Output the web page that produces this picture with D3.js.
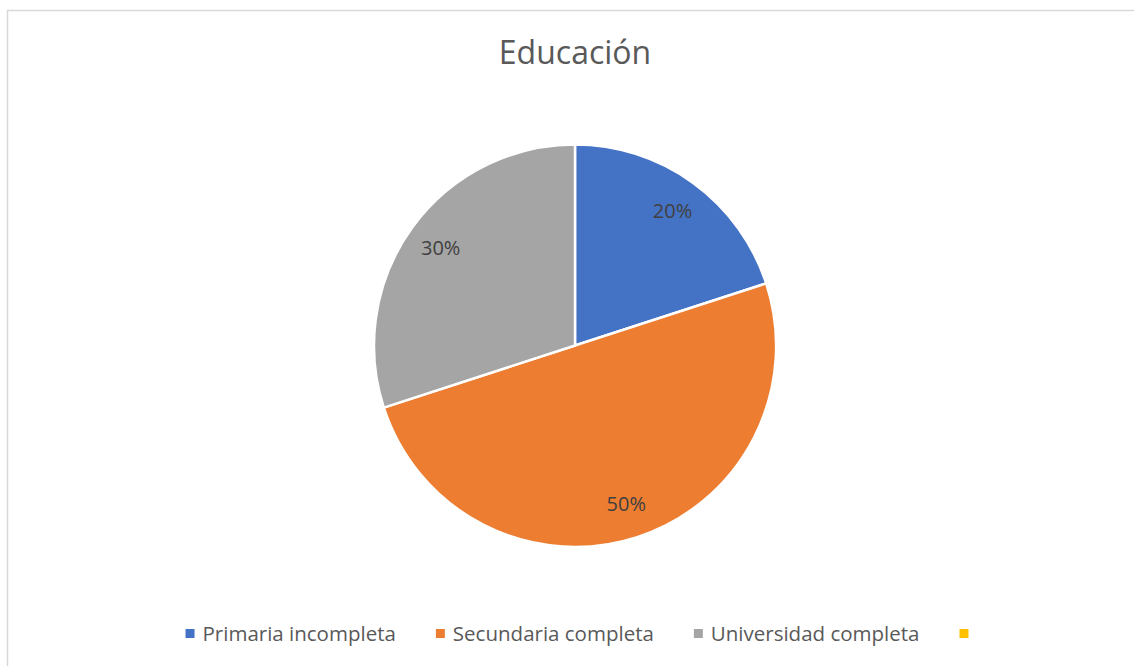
<!DOCTYPE html>
<html>
<head>
<meta charset="utf-8">
<script src="https://cdn.jsdelivr.net/npm/d3@7"></script>
<style>
  html, body { margin: 0; padding: 0; background: #fff; }
  svg { display: block; }
</style>
</head>
<body>
<svg id="chart" width="1134" height="666"></svg>
<script>
const title = "Educación";
const categories = ["Primaria incompleta", "Secundaria completa", "Universidad completa", ""];
const values = [20, 50, 30, 0];
const colors = ["#4472C4", "#ED7D31", "#A5A5A5", "#FFC000"];

const W = 1134, H = 666;
const svg = d3.select("#chart");
const FONT = "'Open Sans', 'Liberation Sans', sans-serif";

// frame
svg.append("rect")
  .attr("x", 7.5).attr("y", 10.5)
  .attr("width", 1140).attr("height", 700)
  .attr("fill", "#fff").attr("stroke", "#d9d9d9").attr("stroke-width", 1.5);

// title
svg.append("text")
  .attr("x", 575).attr("y", 64)
  .attr("text-anchor", "middle")
  .attr("font-family", FONT).attr("font-size", 32)
  .attr("fill", "#595959")
  .text(title);

const cx = 575, cy = 345.5, R = 201;
const data = categories.map((c, i) => ({ cat: c, value: values[i], color: colors[i] }));
const total = d3.sum(values);

const pie = d3.pie().sort(null).value(d => d.value);
const arcs = pie(data);
const arc = d3.arc().innerRadius(0).outerRadius(R);
const labelArc = d3.arc().innerRadius(166).outerRadius(166);

const g = svg.append("g").attr("transform", `translate(${cx},${cy})`);
g.selectAll("path.slice")
  .data(arcs.filter(d => d.data.value > 0))
  .join("path")
  .attr("class", "slice")
  .attr("d", arc)
  .attr("fill", d => d.data.color)
  .attr("stroke", "#fff").attr("stroke-width", 2.5)
  .attr("stroke-linejoin", "round");

g.selectAll("text.lbl")
  .data(arcs.filter(d => d.data.value > 0))
  .join("text")
  .attr("class", "lbl")
  .attr("transform", d => `translate(${labelArc.centroid(d)})`)
  .attr("text-anchor", "middle")
  .attr("dy", "0.36em")
  .attr("font-family", FONT).attr("font-size", 20)
  .attr("fill", "#404040")
  .text(d => d3.format(".0%")(d.data.value / total));

// legend
const legY = 633.5;
const legend = svg.append("g");
const items = legend.selectAll("g.item").data(data).join("g").attr("class", "item");
items.append("rect")
  .attr("width", 9).attr("height", 9)
  .attr("y", legY - 4.5)
  .attr("fill", d => d.color);
items.append("text")
  .attr("x", 17).attr("y", legY)
  .attr("dy", "0.35em")
  .attr("font-family", FONT).attr("font-size", 20.5)
  .attr("fill", "#595959")
  .text(d => d.cat);

let widths = [];
items.each(function () {
  const t = d3.select(this).select("text").node();
  const w = t.textContent ? t.getComputedTextLength() : 0;
  widths.push(w);
});
const itemW = widths.map(w => 9 + (w > 0 ? 8 + w : 0));
const gap = 40;
const totalW = d3.sum(itemW) + gap * (itemW.length - 1);
let x0 = 577 - totalW / 2;
items.attr("transform", (d, i) => {
  const x = x0 + d3.sum(itemW.slice(0, i)) + gap * i;
  return `translate(${x},0)`;
});
</script>
</body>
</html>
